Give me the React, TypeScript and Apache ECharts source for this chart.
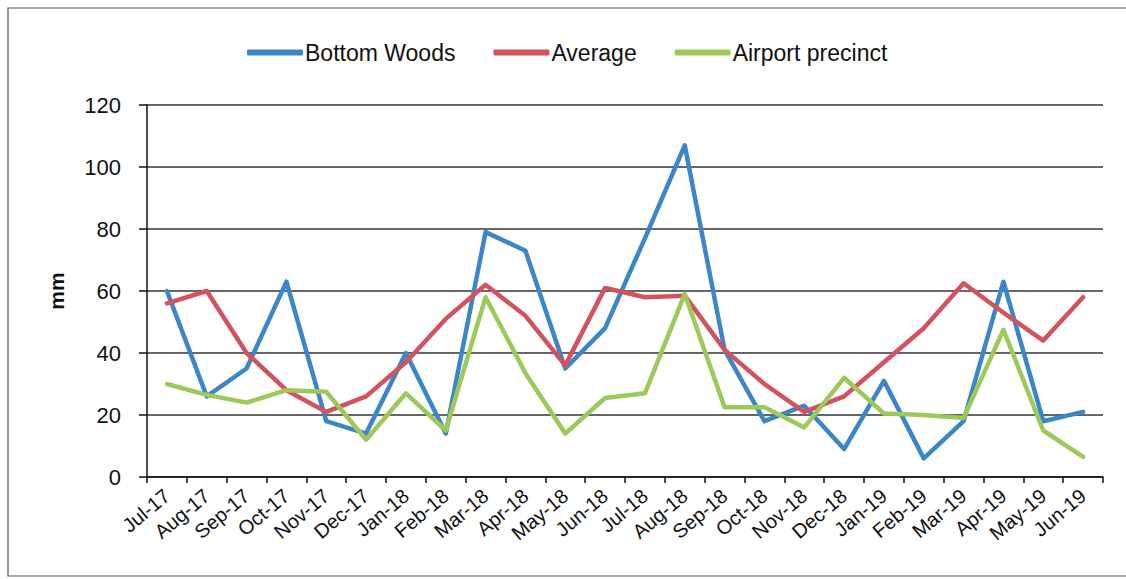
import React, { useEffect, useRef } from "react";
import * as echarts from "echarts";

const categories = [
  "Jul-17", "Aug-17", "Sep-17", "Oct-17", "Nov-17", "Dec-17",
  "Jan-18", "Feb-18", "Mar-18", "Apr-18", "May-18", "Jun-18",
  "Jul-18", "Aug-18", "Sep-18", "Oct-18", "Nov-18", "Dec-18",
  "Jan-19", "Feb-19", "Mar-19", "Apr-19", "May-19", "Jun-19",
];

const bottomWoods = [60, 26, 35, 63, 18, 14, 40, 14, 79, 73, 35, 48, 77, 107, 41, 18, 23, 9, 31, 6, 18, 63, 18, 21];
const average = [56, 60, 40, 28, 21, 26, 37, 51, 62, 52, 36, 61, 58, 58.5, 41, 30, 21, 26, 37, 48, 62.5, 53, 44, 58];
const airport = [30, 26.5, 24, 28, 27.5, 12, 27, 15, 58, 33.5, 14, 25.5, 27, 59, 22.5, 22.5, 16, 32, 20.5, 20, 19, 47.5, 15, 6.5];

const seriesNames = ["Bottom Woods", "Average", "Airport precinct"];
const seriesColors = ["#3a86c8", "#d4525e", "#9cc95a"];
const yTicks = { min: 0, max: 120, interval: 20 };

export default function App() {
  const ref = useRef<HTMLDivElement>(null);
  useEffect(() => {
    if (!ref.current) return;
    const chart = echarts.init(ref.current, null, { renderer: "svg" });
    const font = "'Liberation Sans', Arial, sans-serif";
    const data = [bottomWoods, average, airport];
    chart.setOption({
      animation: false,
      backgroundColor: "#ffffff",
      textStyle: { fontFamily: font },
      graphic: [
        {
          type: "rect",
          shape: { x: 8, y: 8, width: 1140, height: 568 },
          style: { fill: "none", stroke: "#555", lineWidth: 1.2 },
          silent: true,
        },
      ],
      legend: {
        top: 36,
        left: 242,
        itemWidth: 56,
        itemHeight: 6,
        itemGap: 38,
        icon: "roundRect",
        textStyle: { fontSize: 23, color: "#111", fontFamily: font, padding: [0, 0, 0, -3] },
        data: seriesNames,
      },
      grid: { left: 147, right: 23, top: 105, bottom: 102, containLabel: false },
      xAxis: {
        type: "category",
        data: categories,
        boundaryGap: true,
        axisLine: { lineStyle: { color: "#111", width: 1.5 } },
        axisTick: { show: true, length: 6, lineStyle: { color: "#111", width: 1.5 } },
        axisLabel: { rotate: 40, fontSize: 20, color: "#111", margin: 16, interval: 0, fontFamily: font },
        splitLine: { show: false },
      },
      yAxis: {
        type: "value",
        min: yTicks.min,
        max: yTicks.max,
        interval: yTicks.interval,
        name: "mm",
        nameLocation: "middle",
        nameGap: 80,
        nameRotate: 90,
        nameTextStyle: { fontSize: 21, fontWeight: "bold", color: "#111", fontFamily: font },
        axisLine: { show: true, lineStyle: { color: "#111", width: 1.5 } },
        axisTick: { show: true, length: 8, lineStyle: { color: "#111", width: 1.5 } },
        axisLabel: { fontSize: 22, color: "#111", margin: 26, fontFamily: font },
        splitLine: { show: true, lineStyle: { color: "#333", width: 1.5 } },
      },
      series: seriesNames.map((name, i) => ({
        name,
        type: "line",
        data: data[i],
        symbol: "none",
        smooth: false,
        lineStyle: { color: seriesColors[i], width: 4.5, cap: "round", join: "round" },
        itemStyle: { color: seriesColors[i] },
        z: 2 + i,
      })),
    });
    return () => chart.dispose();
  }, []);
  return (
    <div
      ref={ref}
      style={{ position: "fixed", left: 0, top: 0, width: 1126, height: 579 }}
    />
  );
}
